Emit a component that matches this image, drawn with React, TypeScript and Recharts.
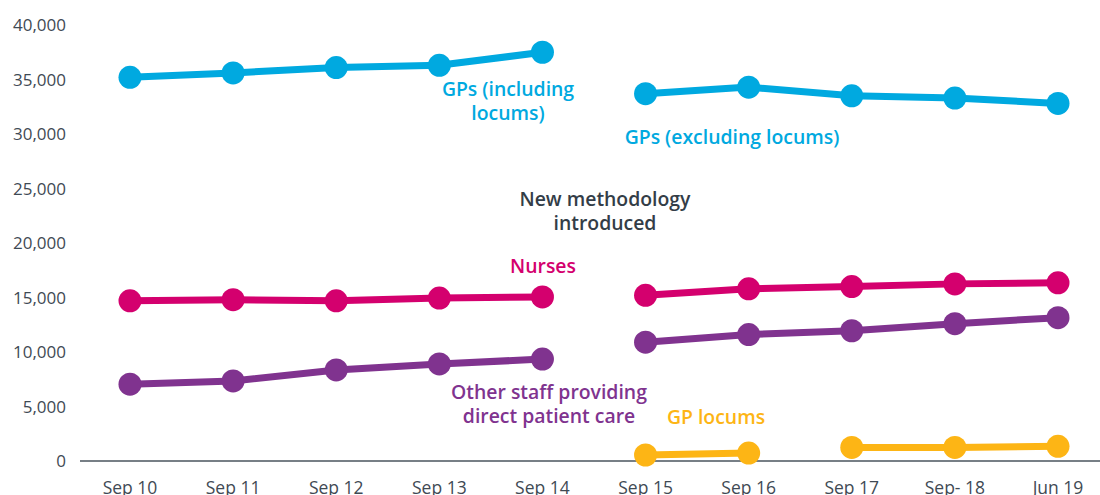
import React from 'react';
import { LineChart, Line, XAxis, YAxis, Customized } from 'recharts';

const categories = ['Sep 10', 'Sep 11', 'Sep 12', 'Sep 13', 'Sep 14', 'Sep 15', 'Sep 16', 'Sep 17', 'Sep- 18', 'Jun 19'];
const gpsIncludingLocums = [35200, 35600, 36100, 36300, 37500, null, null, null, null, null];
const gpsExcludingLocums = [null, null, null, null, null, 33700, 34300, 33500, 33300, 32800];
const nursesOld = [14700, 14800, 14700, 14950, 15050, null, null, null, null, null];
const nursesNew = [null, null, null, null, null, 15200, 15800, 16000, 16250, 16350];
const otherOld = [7050, 7350, 8350, 8900, 9350, null, null, null, null, null];
const otherNew = [null, null, null, null, null, 10900, 11600, 11950, 12600, 13150];
const locumsA = [null, null, null, null, null, 550, 730, null, null, null];
const locumsB = [null, null, null, null, null, null, null, 1250, 1250, 1350];
const yTicks = [0, 5000, 10000, 15000, 20000, 25000, 30000, 35000, 40000];

const BLUE = '#00a9e0';
const PINK = '#d4006e';
const PURPLE = '#80338f';
const YELLOW = '#fdb515';
const DARK = '#333d47';
const TICK = '#3f4a54';

const data = categories.map((c, i) => ({
  cat: c,
  gpsIncl: gpsIncludingLocums[i],
  gpsExcl: gpsExcludingLocums[i],
  nursesOld: nursesOld[i],
  nursesNew: nursesNew[i],
  otherOld: otherOld[i],
  otherNew: otherNew[i],
  locumsA: locumsA[i],
  locumsB: locumsB[i],
}));

const FONT = '"Open Sans", sans-serif';

const annotations: { lines: string[]; x: number; y: number; color: string }[] = [
  { lines: ['GPs (including', 'locums)'], x: 508, y: 96, color: BLUE },
  { lines: ['GPs (excluding locums)'], x: 732, y: 144, color: BLUE },
  { lines: ['New methodology', 'introduced'], x: 605, y: 206, color: DARK },
  { lines: ['Nurses'], x: 543, y: 273, color: PINK },
  { lines: ['Other staff providing', 'direct patient care'], x: 549, y: 399, color: PURPLE },
  { lines: ['GP locums'], x: 716, y: 424, color: YELLOW },
];

const Annotations = () => (
  <g>
    {annotations.map((a, i) => (
      <text key={i} x={a.x} y={a.y} textAnchor="middle" fill={a.color}
        style={{ fontFamily: FONT, fontSize: 19.4, fontWeight: 600 }}>
        {a.lines.map((l, j) => (
          <tspan key={j} x={a.x} dy={j === 0 ? 0 : 24}>{l}</tspan>
        ))}
      </text>
    ))}
  </g>
);

const series = [
  { key: 'gpsIncl', color: BLUE },
  { key: 'gpsExcl', color: BLUE },
  { key: 'nursesOld', color: PINK },
  { key: 'nursesNew', color: PINK },
  { key: 'otherOld', color: PURPLE },
  { key: 'otherNew', color: PURPLE },
  { key: 'locumsA', color: YELLOW },
  { key: 'locumsB', color: YELLOW },
];

export default function App() {
  return (
    <div style={{ position: 'absolute', left: 0, top: 0, width: 1100, height: 495, background: '#fff' }}>
      <LineChart width={1100} height={495} data={data} margin={{ top: 25, right: 0, bottom: 0, left: 0 }}>
        <XAxis
          dataKey="cat"
          height={34}
          padding={{ left: 50, right: 42 }}
          axisLine={{ stroke: '#4a545e', strokeWidth: 1.5 }}
          tickLine={false}
          tickMargin={15}
          interval={0}
          tick={{ fill: TICK, fontSize: 17.5, fontFamily: FONT }}
        />
        <YAxis
          width={80}
          domain={[0, 40000]}
          ticks={yTicks}
          axisLine={false}
          tickLine={false}
          tickMargin={8}
          interval={0}
          tickFormatter={(v: number) => v.toLocaleString('en-US')}
          tick={{ fill: TICK, fontSize: 17, fontFamily: FONT }}
        />
        {series.map((s) => (
          <Line
            key={s.key}
            dataKey={s.key}
            stroke={s.color}
            strokeWidth={7}
            dot={{ r: 11.5, fill: s.color, stroke: s.color, strokeWidth: 0 }}
            activeDot={false}
            connectNulls={false}
            isAnimationActive={false}
          />
        ))}
        <Customized component={Annotations} />
      </LineChart>
    </div>
  );
}
